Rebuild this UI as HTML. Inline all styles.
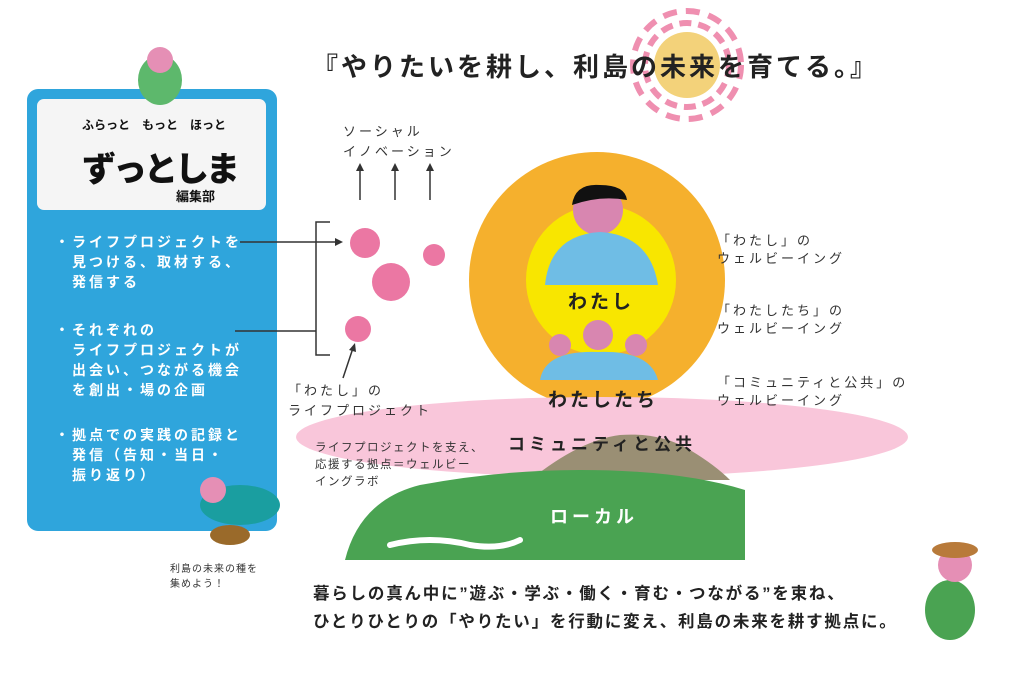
<!DOCTYPE html>
<html><head><meta charset="utf-8"><style>
body{margin:0;width:1024px;height:683px;background:#fff;position:relative;overflow:hidden;font-family:"Liberation Sans","Noto Sans CJK JP",sans-serif;color:#333}
.t{position:absolute;white-space:nowrap}
.s{font-size:13px;letter-spacing:3px;line-height:18px}
.w{color:#fff;font-size:14px;letter-spacing:3px;line-height:20px;font-weight:bold}
</style></head><body>
<svg width="1024" height="683" style="position:absolute;left:0;top:0">
<rect x="27" y="89" width="250" height="442" rx="11" fill="#2fa5dc"/>
<rect x="37" y="99" width="229" height="111" rx="7" fill="#f5f5f5"/>
<circle cx="687" cy="65" r="42" fill="none" stroke="#ef8fb0" stroke-width="6" stroke-dasharray="12 7"/>
<circle cx="687" cy="65" r="54" fill="none" stroke="#ef8fb0" stroke-width="6" stroke-dasharray="14 9"/>
<circle cx="687" cy="65" r="33" fill="#f3d27a"/>
<circle cx="597" cy="280" r="128" fill="#f5b02d"/>
<circle cx="601" cy="280" r="75" fill="#f8e600"/>
<ellipse cx="602" cy="437" rx="306" ry="40" fill="#f9c6da"/>
<path d="M530,480 Q580,440 620,435 Q660,432 690,450 Q715,465 730,480 Z" fill="#9a8f74"/>
<path d="M345,560 Q360,500 420,485 Q500,470 580,470 Q680,470 745,490 L745,560 Z" fill="#4aa352"/>
<path d="M390,545 Q430,535 470,545 Q500,550 520,540" stroke="#fff" stroke-width="6" fill="none" stroke-linecap="round"/>
<circle cx="598" cy="210" r="25" fill="#d886b0"/><path d="M572,205 Q575,183 600,185 Q625,185 627,200 Q600,195 572,205Z" fill="#111"/>
<path d="M545,285 Q550,235 600,232 Q650,235 658,285 Z" fill="#6fbde5"/>
<circle cx="598" cy="335" r="15" fill="#d886b0"/><circle cx="560" cy="345" r="11" fill="#d886b0"/><circle cx="636" cy="345" r="11" fill="#d886b0"/>
<path d="M540,380 Q545,350 598,352 Q650,350 658,380 Z" fill="#6fbde5"/>
<circle cx="365" cy="243" r="15" fill="#eb77a3"/><circle cx="434" cy="255" r="11" fill="#eb77a3"/>
<circle cx="391" cy="282" r="19" fill="#eb77a3"/><circle cx="358" cy="329" r="13" fill="#eb77a3"/>
<g stroke="#333" stroke-width="1.5" fill="none">
<path d="M330,222 H316 V355 H330"/><path d="M240,242 H340"/><path d="M235,331 H316"/>
<path d="M360,200 V170 M395,200 V170 M430,200 V170"/><path d="M343,378 L353,348"/>
</g>
<g fill="#333"><path d="M343,242 l-8,-4 v8z"/><path d="M360,163 l-4,8 h8z M395,163 l-4,8 h8z M430,163 l-4,8 h8z"/><path d="M355,343 l-6,7 l7,2z"/></g>
<ellipse cx="160" cy="80" rx="22" ry="25" fill="#5db86c"/><circle cx="160" cy="60" r="13" fill="#e58fb5"/>
<ellipse cx="240" cy="505" rx="40" ry="20" fill="#1a9ea0"/><circle cx="213" cy="490" r="13" fill="#e58fb5"/><ellipse cx="230" cy="535" rx="20" ry="10" fill="#9a6a2a"/>
<ellipse cx="950" cy="610" rx="25" ry="30" fill="#4aa352"/><circle cx="955" cy="565" r="17" fill="#e58fb5"/><ellipse cx="955" cy="550" rx="23" ry="8" fill="#b87a3a"/>
</svg>
<div class="t" style="left:312px;top:47px;font-size:26px;font-weight:bold;letter-spacing:3px;color:#222">『やりたいを耕し、利島の未来を育てる。』</div>
<div class="t" style="left:82px;top:116px;font-size:12px;font-weight:bold;color:#111">ふらっと　もっと　ほっと</div>
<div class="t" style="left:82px;top:142px;font-size:34px;font-weight:900;color:#111;letter-spacing:-3px">ずっとしま</div>
<div class="t" style="left:176px;top:186px;font-size:13px;font-weight:bold;color:#111">編集部</div>
<div class="t w" style="left:55px;top:232px">・ライフプロジェクトを<br>　見つける、取材する、<br>　発信する</div>
<div class="t w" style="left:55px;top:320px">・それぞれの<br>　ライフプロジェクトが<br>　出会い、つながる機会<br>　を創出・場の企画</div>
<div class="t w" style="left:55px;top:425px">・拠点での実践の記録と<br>　発信（告知・当日・<br>　振り返り）</div>
<div class="t" style="left:170px;top:562px;font-size:10px;line-height:15px;letter-spacing:1px">利島の未来の種を<br>集めよう！</div>
<div class="t s" style="left:343px;top:122px;line-height:20px">ソーシャル<br>イノベーション</div>
<div class="t s" style="left:288px;top:381px;line-height:20px">「わたし」の<br>ライフプロジェクト</div>
<div class="t" style="left:315px;top:440px;font-size:11.5px;letter-spacing:1.5px;line-height:17px">ライフプロジェクトを支え、<br>応援する拠点＝ウェルビー<br>イングラボ</div>
<div class="t" style="left:568px;top:287px;font-size:19px;font-weight:bold;letter-spacing:3px;color:#222">わたし</div>
<div class="t" style="left:548px;top:385px;font-size:19px;font-weight:bold;letter-spacing:3px;color:#222">わたしたち</div>
<div class="t" style="left:508px;top:430px;font-size:17px;font-weight:bold;letter-spacing:4px;color:#222">コミュニティと公共</div>
<div class="t" style="left:550px;top:503px;font-size:18px;font-weight:bold;letter-spacing:4px;color:#fff">ローカル</div>
<div class="t s" style="left:717px;top:232px">「わたし」の<br>ウェルビーイング</div>
<div class="t s" style="left:717px;top:302px">「わたしたち」の<br>ウェルビーイング</div>
<div class="t s" style="left:717px;top:374px">「コミュニティと公共」の<br>ウェルビーイング</div>
<div class="t" style="left:313px;top:580px;font-size:16.5px;font-weight:bold;letter-spacing:1.8px;line-height:28px;color:#222">暮らしの真ん中に”遊ぶ・学ぶ・働く・育む・つながる”を束ね、<br>ひとりひとりの「やりたい」を行動に変え、利島の未来を耕す拠点に。</div>
</body></html>
